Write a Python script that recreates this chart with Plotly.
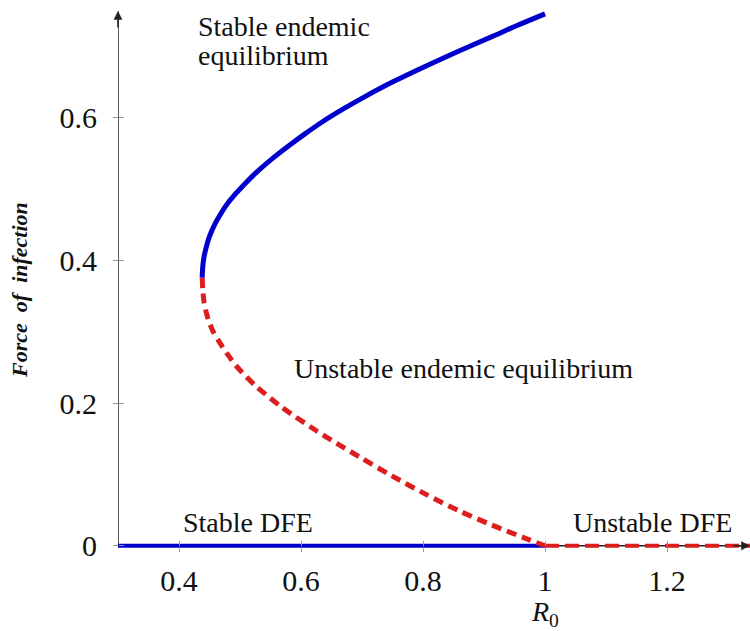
import plotly.graph_objects as go

# Stable endemic branch (upper part of the backward bifurcation)
stable_r0 = [0.438, 0.439, 0.441, 0.445, 0.450, 0.457, 0.466, 0.477, 0.490, 0.505, 0.526,
             0.553, 0.580, 0.607, 0.634, 0.670, 0.707, 0.749, 0.805, 0.859, 0.913, 0.955, 1.000]
stable_foi = [0.376, 0.392, 0.405, 0.420, 0.434, 0.448, 0.462, 0.477, 0.491, 0.505, 0.523,
              0.543, 0.561, 0.578, 0.594, 0.613, 0.631, 0.650, 0.673, 0.694, 0.714, 0.730, 0.746]

# Unstable endemic branch (lower part)
unstable_r0 = [0.438, 0.439, 0.441, 0.446, 0.455, 0.466, 0.480, 0.496, 0.526, 0.569, 0.624,
               0.660, 0.695, 0.749, 0.805, 0.859, 0.913, 0.969, 1.000]
unstable_foi = [0.376, 0.358, 0.342, 0.323, 0.302, 0.286, 0.268, 0.250, 0.224, 0.194, 0.162,
                0.143, 0.125, 0.098, 0.072, 0.049, 0.029, 0.010, 0.000]

# Disease-free equilibrium, stable below R0 = 1 and unstable above
dfe_stable_r0 = [0.3, 1.0]
dfe_unstable_r0 = [1.0, 1.336]
dfe_foi = [0.0, 0.0]

x_ticks = [0.4, 0.6, 0.8, 1.0, 1.2]
x_tick_text = ["0.4", "0.6", "0.8", "1", "1.2"]
y_ticks = [0.0, 0.2, 0.4, 0.6]
y_tick_text = ["0", "0.2", "0.4", "0.6"]

X_RANGE = [0.3, 1.336]
Y_RANGE = [-0.02, 0.75]
BLUE = "#0000CD"
RED = "#DC1E1E"
SERIF = "Liberation Serif, Times New Roman, serif"

fig = go.Figure()

fig.add_trace(go.Scatter(x=dfe_stable_r0, y=dfe_foi, mode="lines",
                         line=dict(color=BLUE, width=4), hoverinfo="skip"))
fig.add_trace(go.Scatter(x=dfe_unstable_r0, y=dfe_foi, mode="lines",
                         line=dict(color=RED, width=4, dash="14px,6px"), hoverinfo="skip"))
fig.add_trace(go.Scatter(x=unstable_r0, y=unstable_foi, mode="lines",
                         line=dict(color=RED, width=5, dash="10px,6px", shape="spline",
                                   smoothing=0.8),
                         hoverinfo="skip"))
fig.add_trace(go.Scatter(x=stable_r0, y=stable_foi, mode="lines",
                         line=dict(color=BLUE, width=5, shape="spline", smoothing=0.8),
                         hoverinfo="skip"))
# empty trace so the overlaid tick axes are drawn
fig.add_trace(go.Scatter(x=[None], y=[None], xaxis="x2", yaxis="y2", hoverinfo="skip"))

zero_pos = (0 - Y_RANGE[0]) / (Y_RANGE[1] - Y_RANGE[0])

tick_font = dict(family=SERIF, size=30, color="#111")
common = dict(showgrid=False, zeroline=False, showline=False, tickcolor="#999",
              tickwidth=1, ticklen=5)

fig.update_layout(
    width=750, height=631,
    margin=dict(l=118, r=0, t=11, b=71),
    paper_bgcolor="white", plot_bgcolor="white",
    showlegend=False,
    xaxis=dict(range=X_RANGE, tickvals=x_ticks, ticktext=x_tick_text, ticks="outside",
               tickfont=tick_font, anchor="free", position=zero_pos,
               ticklabelstandoff=3, **common),
    yaxis=dict(range=Y_RANGE, tickvals=y_ticks, ticktext=y_tick_text, ticks="outside",
               tickfont=tick_font, anchor="free", position=0,
               ticklabelstandoff=10, **common),
    xaxis2=dict(range=X_RANGE, tickvals=x_ticks, ticks="inside", showticklabels=False,
                overlaying="x", anchor="free", position=zero_pos, **common),
    yaxis2=dict(range=Y_RANGE, tickvals=y_ticks, ticks="inside", showticklabels=False,
                overlaying="y", anchor="free", position=0, **common),
)

# axis lines drawn beneath the curves
axis_color = "#222"
fig.add_shape(type="line", xref="x", yref="y", x0=X_RANGE[0], x1=X_RANGE[1], y0=0, y1=0,
              line=dict(color=axis_color, width=1.5), layer="below")
fig.add_shape(type="line", xref="x", yref="y", x0=X_RANGE[0], x1=X_RANGE[0], y0=0, y1=Y_RANGE[1],
              line=dict(color=axis_color, width=1.5), layer="below")

# arrow heads at the axis ends
fig.add_annotation(x=X_RANGE[0], y=Y_RANGE[1], xref="x", yref="y", ax=0, ay=18, text="",
                   showarrow=True, arrowhead=2, arrowsize=1.1, arrowwidth=1.6,
                   arrowcolor=axis_color)
fig.add_annotation(x=X_RANGE[1], y=0, xref="x", yref="y", ax=-18, ay=0, text="",
                   showarrow=True, arrowhead=2, arrowsize=1.1, arrowwidth=1.6,
                   arrowcolor=axis_color)

label_font = dict(family=SERIF, size=28, color="#111")
labels = [
    ("Stable endemic", 0.428, 0.728),
    ("equilibrium", 0.428, 0.687),
    ("Unstable endemic equilibrium", 0.585, 0.249),
    ("Stable DFE", 0.403, 0.033),
    ("Unstable DFE", 1.043, 0.033),
]
for text, x, y in labels:
    fig.add_annotation(x=x, y=y, xref="x", yref="y", text=text, showarrow=False,
                       xanchor="left", yanchor="middle", font=label_font)

# axis titles
fig.add_annotation(x=1.0, y=-0.062, xref="x", yref="paper", text="<i>R</i><sub>0</sub>",
                   showarrow=False, xanchor="center", yanchor="top",
                   font=dict(family=SERIF, size=28, color="#111"))
fig.add_annotation(x=-0.155, y=0.492, xref="paper", yref="paper",
                   text="<b><i>Force  of  infection</i></b>", textangle=-90,
                   showarrow=False, xanchor="center", yanchor="middle",
                   font=dict(family=SERIF, size=22, color="#111"))

fig.write_html("out.html")
